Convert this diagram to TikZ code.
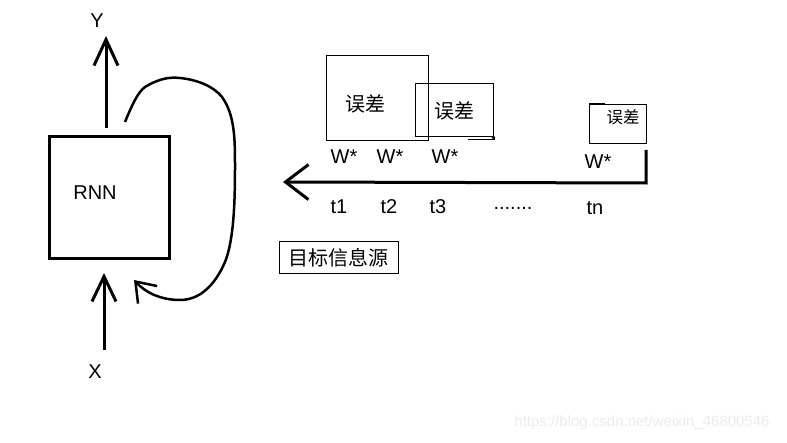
\documentclass[tikz,border=0pt]{standalone}
\usepackage{fontspec}
\setmainfont{Liberation Sans}
\newfontfamily\cjk{Noto Sans CJK SC}
\usetikzlibrary{arrows.meta}

\begin{document}
\begin{tikzpicture}[
  x=1pt, y=-1pt,
  font=\fontsize{20}{23}\selectfont,
  lbl/.style={inner sep=0pt},
  zh/.style={inner sep=0pt, font=\cjk\fontsize{20}{24}\selectfont},
  thinbox/.style={draw=black, line width=1pt, inner sep=0pt},
  heavy/.style={draw=black, line width=3pt, inner sep=0pt},
  barb/.style={line width=3pt, -{Straight Barb[length=#1, width=24pt]}}
]
\useasboundingbox (0,0) rectangle (787,443);

% the RNN cell with input, output and feedback loop
\node[heavy, minimum width=120pt, minimum height=122pt] (rnn) at (109.5,197.5) {};
\node[lbl] (rnntxt) at (95,193) {RNN};
\node[lbl] (ylab) at (97,21) {Y};
\node[lbl] (xlab) at (95,372) {X};
\coordinate (yfoot) at (106,128);
\coordinate (ytip) at (106,36);
\coordinate (xfoot) at (104,350);
\coordinate (xtip) at (104,273);
\draw[barb=26pt] (yfoot) -- (ytip);
\draw[barb=25pt] (xfoot) -- (xtip);
\coordinate (loopout) at (125,122);
\coordinate (loopin) at (134,280);
\draw[line width=2.5pt, -{Straight Barb[length=18pt, width=26pt]}]
  (loopout) .. controls (132,105) and (138,92) .. (145,87)
  .. controls (160,78) and (170,77) .. (180,78)
  .. controls (200,80) and (215,88) .. (222,97)
  .. controls (235,115) and (235,140) .. (235,167)
  .. controls (235,200) and (234,240) .. (225,262)
  .. controls (215,285) and (200,300) .. (180,300)
  .. controls (160,300) and (145,292) .. (loopin);

% unrolled time axis
\coordinate (ttop) at (646,150);
\coordinate (tcorner) at (646,183);
\coordinate (ttip) at (283,182);
\draw[line width=3pt, -{Straight Barb[length=23pt, width=35pt]}] (ttop) -- (tcorner) -- (ttip);

\node[lbl] (w1) at (344,157) {W*};
\node[lbl] (w2) at (390,157) {W*};
\node[lbl] (w3) at (445,157) {W*};
\node[lbl] (wn) at (598,162) {W*};
\node[lbl] (t1) at (339,207) {t1};
\node[lbl] (t2) at (389,207) {t2};
\node[lbl] (t3) at (438,207) {t3};
\node[lbl] (tdots) at (513,208) {.......};
\node[lbl] (tn) at (595,208) {tn};

% error boxes
\node[thinbox, minimum width=102pt, minimum height=85pt] (err1) at (377,98.5) {};
\node[zh] (err1txt) at (365,104) {误差};
\node[thinbox, zh, minimum width=78pt, minimum height=53pt] (err2) at (454,110.5) {误差};
\draw[line width=1pt] (468,140) -- (494,140) -- (494,137);
\fill (err2.south east) circle (1.8pt);
\node[thinbox, minimum width=57pt, minimum height=39pt] (errn) at (617.5,124.5) {};
\node[zh, font=\cjk\fontsize{16.5}{20}\selectfont] (errntxt) at (623,117) {误差};
\draw[line width=2pt] (errn.north west) -- ++(16,0);

\node[thinbox, zh, minimum width=119pt, minimum height=32pt] (src) at (338.5,258) {目标信息源};

\node[lbl, text=black!8, font=\fontsize{15}{17}\selectfont] (mark) at (642,423) {https://blog.csdn.net/weixin\_46800546};
\end{tikzpicture}
\end{document}
